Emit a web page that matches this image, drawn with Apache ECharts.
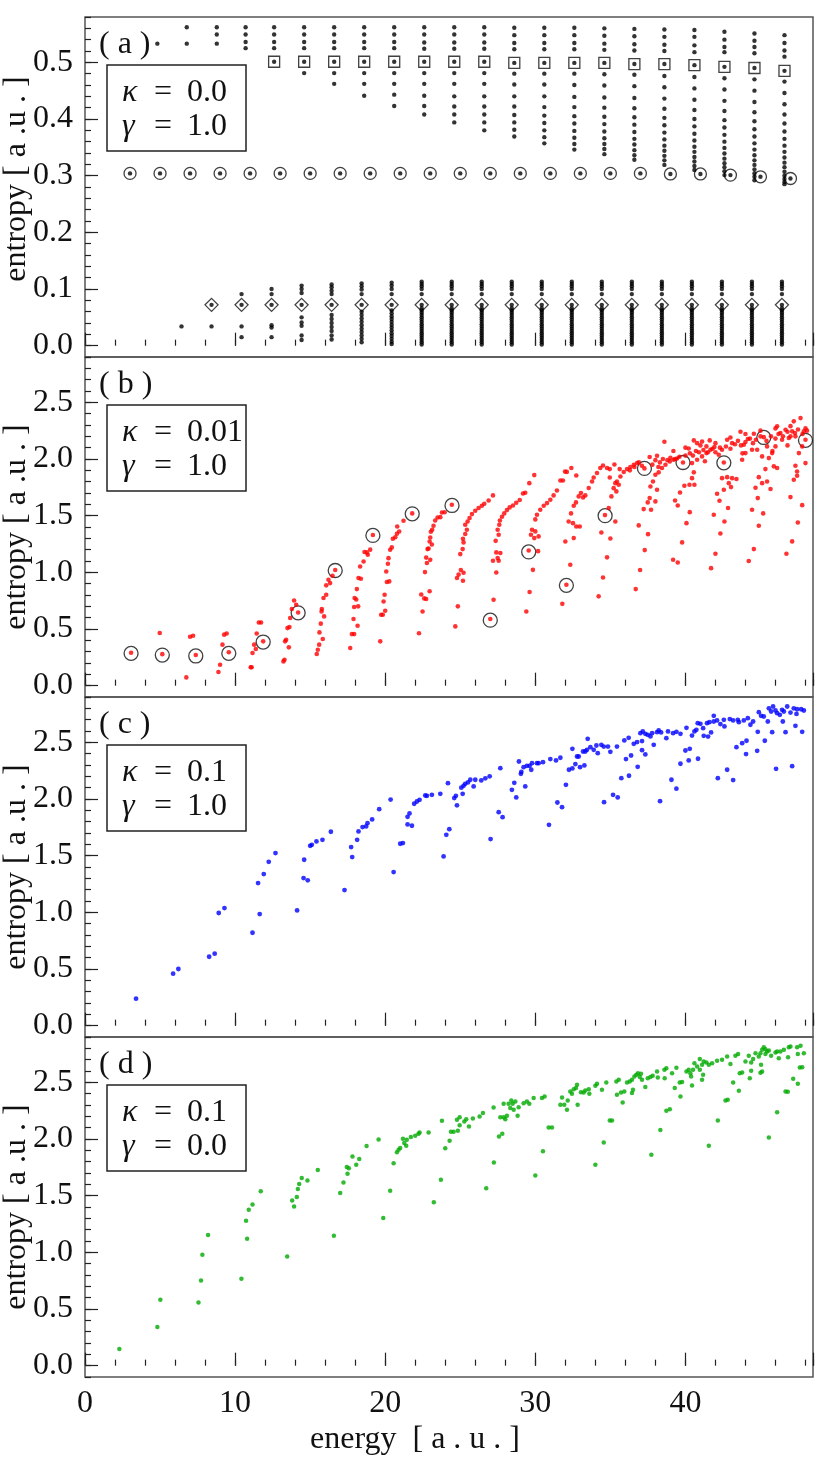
<!DOCTYPE html>
<html>
<head>
<meta charset="utf-8">
<script src="https://cdn.jsdelivr.net/npm/echarts@6/dist/echarts.min.js"></script>
<style>
html, body { margin: 0; padding: 0; background: #fff; }
#chart { width: 830px; height: 1463px; }
</style>
</head>
<body>
<div id="chart"></div>
<script>
// ---- panel (a): kappa = 0.0, gamma = 1.0 ----
var aTopX = [4.82, 6.78, 8.78, 10.7, 12.6, 14.6, 16.6, 18.6, 20.6, 22.6, 24.6, 26.6, 28.6, 30.6, 32.6, 34.6, 36.6, 38.6, 40.6, 42.6, 44.6, 46.6];
var aTopY = [
  [0.533], [0.562, 0.533], [0.562, 0.549, 0.533], [0.562, 0.549, 0.536, 0.525],
  [0.562, 0.549, 0.536, 0.525], [0.562, 0.549, 0.536, 0.525], [0.562, 0.549, 0.536, 0.525], [0.562, 0.549, 0.536, 0.525],
  [0.562, 0.549, 0.536, 0.525], [0.562, 0.549, 0.535, 0.524], [0.562, 0.549, 0.535, 0.524], [0.562, 0.549, 0.535, 0.524],
  [0.561, 0.548, 0.534, 0.523], [0.561, 0.548, 0.534, 0.523], [0.561, 0.548, 0.534, 0.523], [0.560, 0.547, 0.533, 0.522],
  [0.559, 0.546, 0.532, 0.521], [0.558, 0.545, 0.531, 0.520], [0.557, 0.545, 0.530, 0.518], [0.554, 0.540, 0.527, 0.518],
  [0.551, 0.538, 0.527, 0.516], [0.548, 0.534, 0.521, 0.510]
];
var aSqX = [12.6, 14.6, 16.6, 18.6, 20.6, 22.6, 24.6, 26.6, 28.6, 30.6, 32.6, 34.6, 36.6, 38.6, 40.6, 42.6, 44.6, 46.6];
var aSqY = [0.501, 0.501, 0.501, 0.501, 0.501, 0.501, 0.501, 0.501, 0.499, 0.499, 0.499, 0.499, 0.497, 0.497, 0.495, 0.492, 0.490, 0.485];
var aBelowY = [
  [],
  [0.481],
  [0.481, 0.462],
  [0.481, 0.462, 0.441],
  [0.481, 0.462, 0.443, 0.423],
  [0.481, 0.462, 0.441, 0.423, 0.408],
  [0.481, 0.462, 0.440, 0.422, 0.408, 0.394],
  [0.481, 0.462, 0.440, 0.422, 0.408, 0.394, 0.380],
  [0.480, 0.461, 0.440, 0.422, 0.407, 0.394, 0.381, 0.369],
  [0.480, 0.461, 0.440, 0.421, 0.406, 0.393, 0.380, 0.368, 0.357],
  [0.480, 0.460, 0.439, 0.421, 0.405, 0.392, 0.379, 0.367, 0.356, 0.346],
  [0.479, 0.459, 0.438, 0.420, 0.404, 0.391, 0.378, 0.366, 0.356, 0.347, 0.338],
  [0.478, 0.458, 0.437, 0.419, 0.403, 0.390, 0.377, 0.365, 0.355, 0.345, 0.336, 0.328],
  [0.476, 0.456, 0.436, 0.418, 0.402, 0.389, 0.376, 0.364, 0.353, 0.344, 0.335, 0.327, 0.319],
  [0.474, 0.454, 0.434, 0.416, 0.400, 0.387, 0.374, 0.362, 0.351, 0.342, 0.333, 0.325, 0.317, 0.310],
  [0.472, 0.452, 0.432, 0.414, 0.398, 0.385, 0.372, 0.360, 0.349, 0.339, 0.330, 0.322, 0.315, 0.308, 0.301],
  [0.470, 0.450, 0.430, 0.412, 0.396, 0.382, 0.369, 0.357, 0.346, 0.336, 0.327, 0.319, 0.311, 0.304, 0.298, 0.292],
  [0.466, 0.446, 0.426, 0.408, 0.392, 0.378, 0.365, 0.353, 0.342, 0.332, 0.323, 0.315, 0.307, 0.300, 0.294, 0.289, 0.285]
];
var aCircX = [3, 5, 7, 9, 11, 13, 15, 17, 19, 21, 23, 25, 27, 29, 31, 33, 35, 37, 39, 41, 43, 45, 47];
var aCircY = [0.304, 0.304, 0.304, 0.304, 0.304, 0.304, 0.304, 0.304, 0.304, 0.304, 0.304, 0.304, 0.304, 0.304, 0.304, 0.304, 0.304, 0.304, 0.303, 0.303, 0.301, 0.298, 0.295];
var aDiaX = [8.43, 10.43, 12.43, 14.43, 16.43, 18.43, 20.43, 22.43, 24.43, 26.43, 28.43, 30.43, 32.43, 34.43, 36.43, 38.43, 40.43, 42.43, 44.43, 46.43];
var aDiaY = [0.072, 0.072, 0.072, 0.072, 0.072, 0.072, 0.072, 0.072, 0.072, 0.072, 0.072, 0.072, 0.072, 0.072, 0.072, 0.072, 0.072, 0.072, 0.072, 0.072];
var aLowX = [6.43, 8.43, 10.43, 12.43, 14.43, 16.43, 18.43, 20.43, 22.43, 24.43, 26.43, 28.43, 30.43, 32.43, 34.43, 36.43, 38.43, 40.43, 42.43, 44.43, 46.43];
var aLowDense = [0.113, 0.109, 0.105, 0.100, 0.091, 0.072, 0.066, 0.062, 0.058, 0.054, 0.050, 0.046, 0.042, 0.038, 0.034, 0.030, 0.026, 0.022, 0.018, 0.014, 0.010, 0.006, 0.002];
var aLowY = [
  [0.034],
  [0.072, 0.034],
  [0.091, 0.072, 0.034, 0.015],
  [0.100, 0.091, 0.072, 0.036, 0.032, 0.015],
  [0.106, 0.100, 0.093, 0.072, 0.050, 0.041, 0.035, 0.018, 0.010],
  [0.108, 0.103, 0.097, 0.091, 0.072, 0.054, 0.047, 0.040, 0.033, 0.026, 0.018, 0.011],
  [0.110, 0.105, 0.099, 0.091, 0.072, 0.060, 0.054, 0.048, 0.042, 0.036, 0.030, 0.024, 0.018, 0.012, 0.006],
  [0.111, 0.106, 0.100, 0.091, 0.072, 0.062, 0.057, 0.052, 0.047, 0.042, 0.037, 0.032, 0.027, 0.022, 0.017, 0.012, 0.007, 0.003],
  aLowDense, aLowDense, aLowDense, aLowDense, aLowDense, aLowDense, aLowDense,
  aLowDense, aLowDense, aLowDense, aLowDense, aLowDense, aLowDense
];

// ---- panel (b): kappa = 0.01, gamma = 1.0 ----
var bCirc = [[3.07,0.285],[5.15,0.27],[7.38,0.262],[9.58,0.285],[11.87,0.385],[14.2,0.643],[16.67,1.016],[19.18,1.326],[21.8,1.516],[24.45,1.59],[27.0,0.578],[29.56,1.18],[32.07,0.885],[34.65,1.5],[37.27,1.917],[39.84,1.969],[42.56,1.966],[45.22,2.19],[48.0,2.165]];
var bPts = [
  [3.07,0.29],[4.98,0.465],[5.15,0.278],[6.75,0.073],[7.0,0.432],[7.2,0.44],[7.38,0.27],[8.89,0.121],[9.0,0.185],[9.16,0.362],[9.27,0.45],[9.44,0.46],[9.58,0.295],
  [11.04,0.162],[11.1,0.162],[11.16,0.288],[11.27,0.362],[11.38,0.323],[11.44,0.46],[11.58,0.558],[11.73,0.558],[11.87,0.391],
  [13.22,0.214],[13.29,0.229],[13.33,0.391],[13.4,0.405],[13.49,0.508],[13.62,0.517],[13.58,0.338],[13.67,0.597],[13.78,0.676],[13.93,0.752],[14.07,0.714],[14.2,0.646],
  [15.44,0.279],[15.51,0.317],[15.6,0.362],[15.62,0.47],[15.71,0.547],[15.78,0.676],[15.76,0.655],[15.84,0.412],[15.89,0.773],[15.93,0.611],[16.07,0.802],[16.07,0.885],[16.22,0.935],[16.33,0.905],[16.49,0.97],[16.67,1.02],
  [17.67,0.332],[17.78,0.455],[17.93,0.455],[17.89,0.588],[17.93,0.694],[17.96,0.773],[18.07,0.76],[18.11,0.852],[18.16,0.529],[18.22,0.95],[18.38,0.944],[18.2,0.7],[18.33,1.052],[18.56,1.096],[18.62,1.179],[18.78,1.176],[18.84,1.155],[19.0,1.2],[19.18,1.33],
  [19.67,0.391],[19.73,0.626],[19.84,0.626],[19.89,0.743],[19.96,0.802],[20.0,0.661],[20.07,1.008],[20.11,0.915],[20.18,1.076],[20.22,1.125],[20.27,0.92],[20.33,1.199],[20.44,1.22],[20.51,1.296],[20.67,1.31],[20.78,1.34],[20.93,1.36],[20.8,1.405],[21.22,1.455],[21.8,1.52],
  [22.25,0.462],[22.4,0.805],[22.49,0.655],[22.6,0.77],[22.73,0.765],[22.96,0.833],[22.65,1.002],[22.78,1.082],[22.73,1.13],[23.0,1.11],[22.82,1.205],[22.89,1.21],[22.96,1.272],[23.11,1.245],[23.0,1.307],[23.04,1.358],[23.13,1.376],[23.22,1.411],[23.33,1.458],[23.49,1.484],[23.67,1.487],[23.78,1.528],[23.96,1.53],[24.44,1.596],
  [24.67,0.523],[24.84,0.7],[24.78,0.95],[24.89,0.98],[25.04,1.02],[25.18,0.926],[25.22,0.996],[25.0,1.161],[25.16,1.205],[25.22,1.264],[25.18,1.296],[25.33,1.338],[25.44,1.376],[25.33,1.42],[25.49,1.449],[25.62,1.479],[25.78,1.514],[26.0,1.543],[26.22,1.567],[26.44,1.588],[26.6,1.605],[26.89,1.634],[27.18,1.679],
  [27.0,0.588],[27.22,0.758],[27.4,0.999],[27.18,1.102],[27.4,1.176],[27.49,1.126],[27.56,1.102],[27.67,1.17],[27.36,1.278],[27.56,1.331],[27.49,1.376],[27.6,1.42],[27.64,1.458],[27.78,1.49],[27.93,1.52],[28.11,1.549],[28.29,1.573],[28.51,1.59],[28.73,1.614],[28.96,1.638],[29.18,1.696],[29.33,1.702],[29.6,1.787],[29.93,1.858],
  [29.4,0.655],[29.62,0.826],[29.84,1.022],[29.56,1.193],[30.18,1.187],[29.78,1.376],[30.0,1.361],[30.22,1.317],[29.71,1.331],[29.93,1.302],[30.0,1.467],[30.11,1.508],[30.33,1.552],[30.56,1.587],[30.78,1.611],[31.0,1.64],[31.22,1.679],[31.44,1.722],[31.67,1.81],[31.84,1.81],[31.98,1.889],[32.1,1.886],[32.4,1.92],[32.73,1.855],
  [31.8,0.722],[32.07,0.89],[32.33,1.067],[32.0,1.272],[32.56,1.302],[32.22,1.449],[32.51,1.434],[32.73,1.405],[32.96,1.405],[32.38,1.52],[32.56,1.587],[32.71,1.617],[32.89,1.67],[33.04,1.7],[33.18,1.661],[33.33,1.679],[33.56,1.744],[33.78,1.802],[33.89,1.837],[34.11,1.876],[34.33,1.92],[34.51,1.943],[34.78,1.92],[34.96,1.911],
  [34.22,0.788],[34.51,0.955],[34.78,1.132],[34.4,1.352],[35.0,1.299],[34.64,1.505],[34.96,1.837],[35.33,1.449],[34.89,1.567],[35.07,1.67],[35.22,1.743],[35.33,1.787],[35.44,1.802],[35.56,1.773],[35.4,1.714],[35.67,1.846],[35.89,1.885],[36.11,1.911],[36.33,1.929],[36.56,1.949],[36.78,1.964],[35.62,1.911],[35.27,1.952],
  [36.69,0.852],[36.98,1.02],[37.29,1.196],[37.51,1.337],[36.89,1.414],[37.22,1.558],[37.49,1.617],[37.62,1.655],[37.71,1.552],[38.0,1.626],[38.11,1.729],[37.67,1.758],[37.84,1.802],[38.0,1.861],[38.22,1.882],[38.44,1.92],[38.67,1.949],[38.96,1.979],[39.22,1.993],[39.44,2.005],[37.27,1.917],[37.62,2.017],[38.11,2.029],[38.6,2.152],
  [39.18,1.111],[39.49,1.087],[39.78,1.264],[40.07,1.434],[40.29,1.531],[39.31,1.634],[39.49,1.59],[39.64,1.705],[39.93,1.764],[40.27,1.773],[40.6,1.773],[39.84,1.969],[40.22,2.093],[40.56,2.164],[40.78,2.14],[41.11,2.155],[41.4,2.111],[41.62,2.164],[40.44,1.964],[40.78,1.993],[41.11,2.023],[41.4,2.052],[41.67,2.082],[41.93,2.105],[42.22,2.037],[42.44,2.082],[40.44,1.831],[40.56,1.882],
  [41.71,1.037],[42.0,1.164],[42.33,1.343],[42.6,1.449],[41.89,1.508],[42.27,1.631],[42.11,1.693],[42.56,1.729],[42.89,1.787],[42.44,1.831],[42.78,1.84],[43.11,1.831],[43.4,1.823],[42.84,1.567],[43.04,1.752],[42.56,1.969],[42.78,2.17],[43.11,2.14],[43.67,2.241],[43.89,2.126],[44.16,2.176],[44.44,2.082],[43.78,1.993],[44.56,2.223],[44.78,2.082],[44.0,2.052],
  [44.22,1.1],[44.56,1.205],[44.89,1.411],[45.18,1.52],[44.44,1.552],[44.82,1.655],[44.67,1.746],[45.11,1.787],[45.44,1.802],[45.67,1.735],[44.89,1.84],[45.33,1.911],[45.89,1.935],[46.11,1.92],[45.22,2.193],[45.11,2.023],[45.56,2.008],[45.78,2.052],[45.44,2.111],[46.0,2.111],[46.11,2.288],[46.33,2.229],[46.44,2.17],[46.67,2.258],[46.89,2.185],[47.11,2.244],[47.22,2.332],[47.67,2.361],[47.89,2.244],[47.33,2.2],
  [46.73,1.164],[47.11,1.273],[47.49,1.44],[47.78,1.593],[47.0,1.664],[47.22,1.817],[47.44,1.852],[47.33,1.94],[47.44,1.89],[48.0,1.964],[47.56,2.052],[47.78,2.111],[48.0,2.17],
  [38.0,1.99],[38.3,1.97],[38.5,2.0],[38.8,1.99],[39.0,2.01],[39.3,2.0],[39.6,2.02],[40.0,2.03],[40.3,2.05],[40.5,2.03],[40.7,2.07],[40.9,2.06],[41.2,2.08],[41.5,2.06],[41.8,2.09],[42.0,2.06],[42.3,2.1],[42.7,2.11],[43.0,2.09],[43.3,2.13],[43.5,2.16],[43.7,2.12],[44.0,2.15],[44.3,2.18],[44.5,2.14],[44.7,2.17],[45.0,2.2],[45.4,2.16],[45.7,2.2],[46.0,2.18],[46.2,2.22],[46.5,2.2],[46.8,2.24],[47.0,2.2],[47.3,2.23],[47.5,2.26],[47.8,2.22],[48.1,2.25],
  [41.0,2.12],[42.0,2.14],[43.0,2.19],[44.0,2.22],[45.0,2.25],[46.0,2.27],[47.0,2.29],[48.0,2.27],[39.2,2.07],[40.0,2.1],[41.3,1.98],[43.8,2.05],[45.8,2.07],[46.8,2.12],[38.2,1.93],[37.8,1.95],[36.9,1.97],[37.1,1.94],[36.3,1.9],[36.6,1.93]
];

// ---- panel (c): kappa = 0.1, gamma = 1.0 ----
var cPts = [
  [3.4,0.238],[5.87,0.459],[6.22,0.5],[8.27,0.608],[8.64,0.635],[8.91,0.994],[9.29,1.038],[11.16,0.82],[11.64,0.985],[11.53,1.258],[11.91,1.338],[12.24,1.446],[12.69,1.523],
  [14.13,1.017],[14.56,1.302],[14.84,1.282],[14.6,1.464],[15.0,1.587],[15.11,1.596],[15.42,1.626],[15.82,1.64],[16.38,1.711],[17.29,1.196],[17.73,1.576],[17.8,1.488],[18.13,1.64],[18.22,1.714],[18.49,1.752],[18.73,1.758],[18.82,1.787],[19.13,1.82],[19.6,1.91],[20.36,1.995],
  [20.56,1.355],[21.0,1.605],[21.18,1.611],[21.49,1.776],[21.78,1.764],[21.49,1.843],[21.62,1.873],[21.93,1.958],[22.11,1.978],[22.29,1.993],
  [22.67,2.031],[22.78,2.028],[23.11,2.037],[23.67,2.046],[23.89,1.493],[24.07,1.684],[24.27,1.734],[24.18,2.14],[24.6,2.008],[24.71,2.028],[24.78,1.944],[25.07,2.1],[25.22,2.116],[25.33,2.134],[25.51,2.146],[25.67,2.17],[26.0,2.17],[26.4,2.164],[26.67,2.182],[26.96,2.2],[25.16,2.046],[25.89,2.111],
  [27.02,1.646],[27.56,1.884],[27.82,1.84],[27.67,2.272],[28.44,2.081],[28.6,2.143],[28.73,2.014],[28.91,2.331],[29.04,2.222],[29.07,2.24],[29.33,2.111],[29.22,2.281],[29.44,2.293],[29.62,2.293],[29.78,2.316],[29.73,2.258],[30.11,2.316],[30.22,2.316],[30.51,2.325],[31.0,2.352],[31.38,2.34],[31.67,2.364],
  [30.91,1.772],[31.47,1.969],[31.78,1.928],[32.04,2.125],[32.24,2.258],[32.47,2.27],[32.67,2.308],[32.78,2.375],[32.89,2.375],[32.98,2.281],[33.27,2.296],[32.47,2.443],[33.18,2.419],[33.33,2.419],[33.44,2.434],[33.67,2.457],[33.89,2.434],[34.07,2.472],[34.16,2.404],[34.4,2.478],[34.56,2.463],[34.84,2.463],[35.0,2.416],[35.44,2.463],[33.49,2.531],
  [34.58,1.972],[35.18,2.037],[35.49,2.014],[35.73,2.184],[36.24,2.205],[36.04,2.352],[36.38,2.384],[36.82,2.284],[35.93,2.517],[36.22,2.54],[36.56,2.487],[36.78,2.502],[37.11,2.511],[37.11,2.431],[37.33,2.393],[37.0,2.581],[37.16,2.596],[37.33,2.575],[37.49,2.566],[37.67,2.552],[37.78,2.581],[38.11,2.59],[38.22,2.605],[38.38,2.587],[37.89,2.478],
  [38.31,1.981],[38.73,2.537],[38.84,2.596],[39.18,2.581],[39.4,2.593],[39.67,2.575],[39.07,2.17],[39.4,2.091],[39.67,2.311],[40.0,2.428],[40.22,2.34],[40.29,2.443],[40.84,2.355],
  [40.07,2.628],[40.44,2.56],[40.6,2.596],[40.73,2.61],[40.82,2.669],[41.0,2.663],[41.18,2.625],[41.22,2.557],[41.51,2.551],[41.44,2.669],[41.71,2.587],[41.89,2.734],[41.6,2.678],[41.89,2.684],[42.11,2.693],[42.33,2.661],[42.56,2.699],[42.6,2.64],[42.96,2.705],[43.18,2.693],[43.49,2.699],[43.56,2.678],[43.89,2.693],[44.16,2.713],[44.33,2.655],[44.51,2.684],
  [42.16,2.184],[42.78,2.258],[43.18,2.167],[43.4,2.457],[43.78,2.493],[44.07,2.514],[44.04,2.396],[44.78,2.425],[44.82,2.593],[45.29,2.514],
  [44.89,2.766],[45.04,2.734],[45.22,2.728],[45.49,2.684],[45.56,2.8],[45.71,2.772],[45.84,2.816],[46.0,2.781],[46.11,2.757],[46.29,2.743],[46.44,2.787],[46.56,2.772],[46.78,2.816],[47.0,2.763],[47.22,2.8],[47.44,2.792],[47.71,2.792],[47.89,2.781],
  [45.78,2.59],[46.49,2.684],[46.67,2.59],[47.4,2.751],[47.33,2.646],[47.78,2.593],[46.04,2.266],[47.11,2.29]
];

// ---- panel (d): kappa = 0.1, gamma = 0.0 ----
var dPts = [
  [2.29,0.147],[4.82,0.341],[5.02,0.582],[7.56,0.558],[7.73,0.752],[7.82,0.979],[8.2,1.152],[10.42,0.767],[10.8,1.12],[10.73,1.279],[10.91,1.376],[11.16,1.423],[11.71,1.54],
  [13.47,0.964],[13.8,1.458],[13.93,1.405],[14.11,1.488],[14.18,1.558],[14.27,1.602],[14.44,1.655],[14.82,1.634],[15.51,1.726],
  [16.58,1.146],[17.0,1.523],[17.22,1.617],[17.49,1.693],[17.58,1.743],[17.44,1.752],[17.82,1.846],[18.07,1.773],[18.27,1.823],[18.76,1.938],[19.56,1.995],
  [19.87,1.302],[20.33,1.543],[20.56,1.787],[20.78,1.884],[20.89,1.905],[21.0,1.92],[21.18,2.002],[21.27,1.964],[21.4,1.94],[21.44,1.993],[21.71,2.017],[22.0,2.028],[22.22,2.046],[22.29,2.058],[22.89,2.058],
  [23.24,1.443],[23.71,1.64],[23.78,2.16],[24.0,1.919],[24.29,1.984],[24.38,2.063],[24.56,2.063],[24.84,2.072],[24.96,2.122],[24.78,2.169],[24.96,2.193],[25.27,2.155],[25.4,2.175],[25.58,2.111],[25.84,2.181],[26.29,2.199],[26.51,2.229],[27.22,2.279],
  [26.73,1.566],[27.24,1.793],[27.58,2.022],[27.8,2.046],[27.67,2.193],[27.89,2.193],[28.0,2.175],[28.11,2.205],[27.89,2.311],[28.22,2.311],[28.4,2.34],[28.33,2.273],[28.56,2.258],[28.49,2.311],[28.67,2.331],[28.89,2.281],[28.82,2.205],[29.22,2.316],[29.44,2.331],[29.6,2.311],[29.89,2.361],
  [30.0,1.678],[30.51,1.891],[30.89,2.102],[31.11,2.102],[30.44,2.361],[30.62,2.375],[31.67,2.302],[31.93,2.302],[32.11,2.258],[31.78,2.367],[32.16,2.34],[32.44,2.399],[32.56,2.44],[32.33,2.419],[32.78,2.478],[32.71,2.449],[32.82,2.302],[33.04,2.413],[33.22,2.41],[33.33,2.428],[33.56,2.44],[33.6,2.399],[34.0,2.469],[34.11,2.487],[34.44,2.434],[34.73,2.499],
  [34.0,1.772],[34.56,1.969],[34.96,2.164],[35.11,2.164],[35.4,2.508],[35.56,2.522],[35.44,2.39],[35.71,2.41],[35.93,2.419],[35.82,2.322],[36.11,2.499],[36.29,2.508],[36.44,2.522],[36.51,2.434],[36.44,2.405],[36.6,2.552],[36.73,2.566],[36.84,2.581],[36.96,2.546],[37.04,2.575],[37.11,2.522],[37.33,2.458],[37.49,2.537],[37.67,2.546],[37.82,2.557],[38.11,2.596],[38.16,2.543],[38.6,2.61],[38.73,2.625],[39.11,2.581],[39.4,2.628],
  [37.73,1.86],[38.33,2.08],[38.73,2.249],[38.96,2.263],[39.29,2.449],[39.62,2.499],[39.78,2.502],[39.67,2.375],[38.62,2.537],
  [40.07,2.596],[40.22,2.61],[40.33,2.581],[40.51,2.61],[40.6,2.669],[40.78,2.64],[40.96,2.705],[41.11,2.655],[41.22,2.684],[41.4,2.675],[41.56,2.655],[41.78,2.669],[41.18,2.566],[40.38,2.552],[40.44,2.472],[41.11,2.522],[40.96,2.61],
  [42.11,2.69],[42.44,2.699],[42.78,2.728],[43.0,2.661],[43.33,2.734],[43.51,2.751],[44.0,2.684],[44.22,2.734],[44.38,2.675],[44.51,2.705],[44.67,2.757],[44.89,2.728],[45.0,2.757],[45.11,2.787],[45.22,2.81],[45.33,2.792],[45.44,2.772],[45.56,2.781],[45.71,2.734],[45.04,2.655],[45.11,2.596],[45.33,2.751],
  [46.0,2.763],[46.11,2.772],[46.33,2.772],[46.56,2.787],[46.89,2.81],[47.0,2.816],[47.44,2.81],[47.67,2.822],[46.22,2.713],[46.84,2.722],[47.89,2.757],[47.49,2.751],
  [41.56,1.94],[42.16,2.164],[42.67,2.34],[42.82,2.346],[43.18,2.499],[43.56,2.425],[43.62,2.581],[43.78,2.587],[44.29,2.537],[44.38,2.602],[45.0,2.584],
  [45.56,2.013],[46.11,2.237],[46.67,2.419],[46.82,2.416],[47.18,2.531],[47.49,2.487],[47.62,2.631],[47.78,2.634]
];

var panelTags = ['( a )', '( b )', '( c )', '( d )'];
var kappaText = ['0.0', '0.01', '0.1', '0.1'];
var gammaText = ['1.0', '1.0', '1.0', '0.0'];

var FONT = 'Liberation Serif';
var FS = 32;
var tops = [17, 357, 697, 1037];
var PH = 340;

function near(v, step) {
  return Math.abs(v / step - Math.round(v / step)) < 1e-6;
}

var grids = tops.map(function (t) {
  return { left: 85, top: t, width: 728, height: PH, show: true, borderColor: '#555', borderWidth: 1.5, backgroundColor: 'transparent' };
});

var tickStyle = { color: '#222', width: 1.2 };
var xAxes = [];
var yAxes = [];
tops.forEach(function (t, g) {
  xAxes.push({
    gridIndex: g, type: 'value', position: 'bottom', min: 0, max: 48.5, interval: 2,
    axisLine: { show: false }, splitLine: { show: false },
    axisTick: { inside: true, length: 6, lineStyle: tickStyle },
    axisLabel: { show: false }
  });
  xAxes.push({
    gridIndex: g, type: 'value', position: 'bottom', min: 0, max: 48.5, interval: 10,
    axisLine: { show: false }, splitLine: { show: false },
    axisTick: { inside: true, length: 13, lineStyle: tickStyle },
    axisLabel: {
      show: g === 3, margin: 11, fontFamily: FONT, fontSize: FS, color: '#111',
      formatter: function (v) { return near(v, 10) ? String(Math.round(v)) : ''; }
    }
  });
  var isA = g === 0;
  var ymin = isA ? -0.02 : -0.1, ymax = isA ? 0.58 : 2.9, ystep = isA ? 0.02 : 0.1, ymaj = isA ? 0.1 : 0.5, ytop = isA ? 0.5 : 2.5;
  var majors = [];
  for (var k = 0; k * ymaj <= ytop + 1e-9; k++) majors.push(+(k * ymaj).toFixed(2));
  yAxes.push({
    gridIndex: g, type: 'value', position: 'left', min: ymin, max: ymax, interval: ystep,
    axisLine: { show: false }, splitLine: { show: false },
    axisTick: { inside: true, length: 6, lineStyle: tickStyle },
    axisLabel: {
      margin: 12, fontFamily: FONT, fontSize: FS, color: '#111',
      formatter: function (v) {
        return (near(v, ymaj) && v > -1e-9 && v < ytop + 1e-9) ? v.toFixed(1) : '';
      }
    }
  });
  yAxes.push({
    gridIndex: g, type: 'value', position: 'left', min: ymin, max: ymax,
    axisLine: { show: false }, splitLine: { show: false },
    axisTick: { inside: true, length: 13, lineStyle: tickStyle, customValues: majors },
    axisLabel: { show: false }
  });
});

function pairs(xs, ys) {
  return xs.map(function (x, i) { return [x, ys[i]]; });
}

var aDots = [];
aTopX.forEach(function (x, i) { aTopY[i].forEach(function (y) { aDots.push([x, y]); }); });
aSqX.forEach(function (x, i) {
  aDots.push([x, aSqY[i]]);
  aBelowY[i].forEach(function (y) { aDots.push([x, y]); });
});
aCircX.forEach(function (x, i) { aDots.push([x, aCircY[i]]); });
aLowX.forEach(function (x, i) { aLowY[i].forEach(function (y) { aDots.push([x, y]); }); });

function hollow(g, symbol, size, data) {
  return {
    type: 'scatter', xAxisIndex: 2 * g, yAxisIndex: 2 * g, symbol: symbol, symbolSize: size, data: data,
    itemStyle: { color: 'rgba(0,0,0,0)', borderColor: '#111', borderWidth: 1.3 }, z: 2
  };
}
function dots(g, color, size, data) {
  return {
    type: 'scatter', xAxisIndex: 2 * g, yAxisIndex: 2 * g, symbol: 'circle', symbolSize: size, data: data,
    itemStyle: { color: color, borderWidth: 0 }, z: 3
  };
}

var series = [
  hollow(0, 'circle', 12, pairs(aCircX, aCircY)),
  hollow(0, 'rect', 11, pairs(aSqX, aSqY)),
  hollow(0, 'diamond', [13, 13], pairs(aDiaX, aDiaY)),
  dots(0, '#000', 4.4, aDots),
  hollow(1, 'circle', 14, bCirc),
  dots(1, '#ff0000', 4.6, bPts),
  dots(2, '#0000ff', 4.8, cPts),
  dots(3, '#00aa00', 4.5, dPts)
];

var graphics = [];
tops.forEach(function (t, g) {
  graphics.push({ type: 'text', x: 99, y: t + 28, z: 100,
    style: { text: panelTags[g], fontFamily: FONT, fontSize: FS, fill: '#111', align: 'left', verticalAlign: 'middle' } });
  graphics.push({ type: 'rect', z: 100, shape: { x: 107, y: t + 48, width: 139, height: 86 },
    style: { fill: '#fff', stroke: '#222', lineWidth: 1.5 } });
  var rows = [['κ', kappaText[g], t + 76], ['γ', gammaText[g], t + 110]];
  rows.forEach(function (r) {
    graphics.push({ type: 'text', x: 122, y: r[2], z: 101,
      style: { text: r[0], fontFamily: FONT, fontStyle: 'italic', fontSize: FS, fill: '#111', align: 'left', verticalAlign: 'middle' } });
    graphics.push({ type: 'text', x: 154, y: r[2], z: 101,
      style: { text: '=', fontFamily: FONT, fontSize: FS, fill: '#111', align: 'left', verticalAlign: 'middle' } });
    graphics.push({ type: 'text', x: 187, y: r[2], z: 101,
      style: { text: r[1], fontFamily: FONT, fontSize: FS, fill: '#111', align: 'left', verticalAlign: 'middle' } });
  });
  graphics.push({ type: 'text', x: 17, y: t + PH / 2 - (g === 0 ? 8 : 0), rotation: Math.PI / 2, z: 100,
    style: { text: 'entropy [ a .u . ]', fontFamily: FONT, fontSize: FS, fill: '#111', align: 'center', verticalAlign: 'middle' } });
});
graphics.push({ type: 'text', x: 415, y: 1440, z: 100,
  style: { text: 'energy  [ a . u . ]', fontFamily: FONT, fontSize: FS, fill: '#111', align: 'center', verticalAlign: 'middle' } });

var chart = echarts.init(document.getElementById('chart'), null, { renderer: 'canvas' });
chart.setOption({
  animation: false,
  backgroundColor: '#fff',
  grid: grids,
  xAxis: xAxes,
  yAxis: yAxes,
  series: series,
  graphic: graphics
});
</script>
</body>
</html>
